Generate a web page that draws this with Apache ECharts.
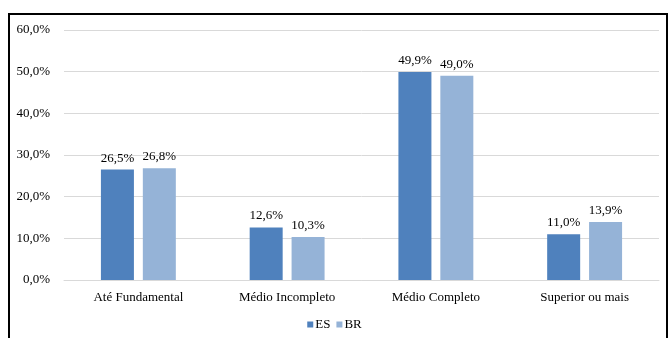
<!DOCTYPE html>
<html>
<head>
<meta charset="utf-8">
<script src="https://cdn.jsdelivr.net/npm/echarts@6/dist/echarts.min.js"></script>
<style>
  html, body { margin: 0; padding: 0; background: #fff; }
  #frame { position: absolute; left: 8px; top: 13px; width: 660px; height: 330px; border-left: 2px solid #000; border-top: 2px solid #000; border-right: 2px solid #000; box-sizing: border-box; }
  #chart { position: absolute; left: 0; top: 0; width: 669px; height: 338px; }
</style>
</head>
<body>
<div id="frame"></div>
<div id="chart"></div>
<script>
// Escolaridade: ES vs BR (percentual)
const categories = ['Até Fundamental', 'Médio Incompleto', 'Médio Completo', 'Superior ou mais'];
const esValues = [26.5, 12.6, 49.9, 11.0];
const brValues = [26.8, 10.3, 49.0, 13.9];
const seriesNames = ['ES', 'BR'];

const fmt = v => v.toFixed(1).replace('.', ',') + '%';
const font = '"Liberation Serif", "Times New Roman", serif';

const chart = echarts.init(document.getElementById('chart'), null, { renderer: 'canvas' });
const labelCfg = {
  show: true, position: 'top', distance: 5,
  color: '#000', fontFamily: font, fontSize: 13,
  formatter: p => fmt(p.value)
};
chart.setOption({
  animation: false,
  textStyle: { fontFamily: font },
  grid: { left: 64, right: 10, top: 30, bottom: 58 },
  legend: {
    data: seriesNames, bottom: 2, left: 'center',
    itemWidth: 6, itemHeight: 6, itemGap: 6,
    icon: 'rect',
    textStyle: { fontFamily: font, fontSize: 13, color: '#000', padding: [0, 0, 0, -3] }
  },
  xAxis: {
    type: 'category', data: categories,
    axisLine: { lineStyle: { color: '#d9d9d9' } },
    axisTick: { show: false },
    axisLabel: { color: '#000', fontFamily: font, fontSize: 13, margin: 11 }
  },
  yAxis: {
    type: 'value', min: 0, max: 60, interval: 10,
    axisLine: { show: false }, axisTick: { show: false },
    splitLine: { lineStyle: { color: '#d9d9d9' } },
    axisLabel: { color: '#000', fontFamily: font, fontSize: 13, margin: 14, formatter: v => v.toFixed(1).replace('.', ',') + '%' }
  },
  series: [
    { name: 'ES', type: 'bar', data: esValues, barWidth: 33, barGap: '27%', itemStyle: { color: '#4F81BD' }, label: labelCfg },
    { name: 'BR', type: 'bar', data: brValues, barWidth: 33, itemStyle: { color: '#95B3D7' }, label: labelCfg }
  ]
});
</script>
</body>
</html>
